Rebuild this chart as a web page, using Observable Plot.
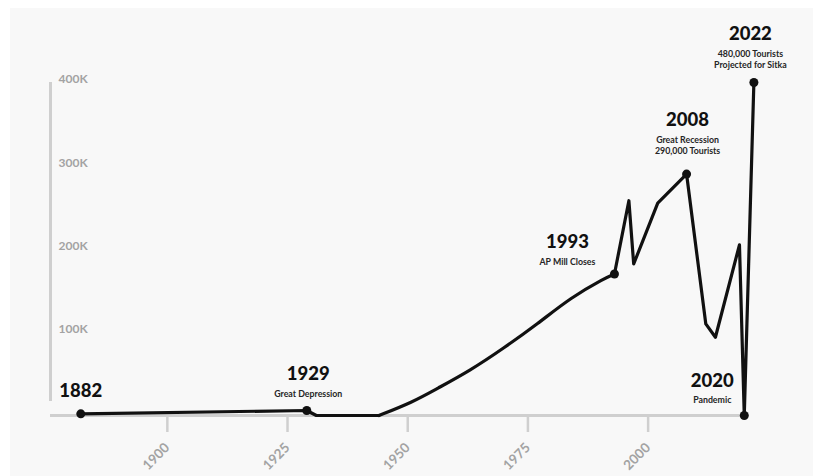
<!DOCTYPE html>
<html>
<head>
<meta charset="utf-8">
<script src="https://cdn.jsdelivr.net/npm/d3@7"></script>
<script src="https://cdn.jsdelivr.net/npm/@observablehq/plot@0.6"></script>
<style>
  html, body { margin: 0; padding: 0; background: #fff; }
  #chart { width: 813px; height: 476px; }
</style>
</head>
<body>
<div id="chart"></div>
<script>
// Annual visitors to Sitka, Alaska
const years = [1882, 1929, 1931, 1944, 1951, 1956, 1963, 1970, 1977, 1984, 1991, 1993, 1996, 1997, 2002, 2008, 2012, 2014, 2019, 2020, 2022];
const visitors = [2000, 6000, 0, 0, 16000, 32000, 54000, 81000, 110000, 142000, 165000, 170000, 258000, 182000, 255000, 290000, 110000, 94000, 205000, 0, 480000];

// Milestones called out on the line
const eventYears = [1882, 1929, 1993, 2008, 2020, 2022];
const eventNotes = ["", "Great Depression", "AP Mill Closes", "Great Recession\n290,000 Tourists", "Pandemic", "480,000 Tourists\nProjected for Sitka"];

// Axis ticks
const xTicks = [1900, 1925, 1950, 1975, 2000];
const yTicks = [100000, 200000, 300000, 400000];

const data = years.map((year, i) => ({year, visitors: visitors[i]}));
const events = eventYears.map((year, i) => ({
  year,
  visitors: visitors[years.indexOf(year)],
  note: eventNotes[i]
}));

// The post-war growth is drawn as a smooth curve; the rest stays angular
const growthStart = 1944;
const growthEnd = 1993;
const early = data.filter(d => d.year <= growthStart);
const growth = data.filter(d => d.year >= growthStart && d.year <= growthEnd);
const late = data.filter(d => d.year >= growthEnd);

const xMin = 1875.7;
const xMax = 2024;
const ink = "#111";
const axisGray = "#cfcfcf";
const labelGray = "#a3a3a3";

// Label placement around each milestone dot
const placement = {
  1882: {dx: 0, dy: -23, ndy: 0},
  1929: {dx: 1.5, dy: -36, ndy: -17},
  1993: {dx: -47, dy: -31.5, ndy: -12.5},
  2008: {dx: 1, dy: -54, ndy: -29.5},
  2020: {dx: -32, dy: -34, ndy: -16},
  2022: {dx: -3.5, dy: -48, ndy: -23.5}
};

const eventLabels = events.flatMap(e => {
  const p = placement[e.year];
  const marks = [
    Plot.text([e], {
      x: "year", y: "visitors", text: d => String(d.year),
      dx: p.dx, dy: p.dy, fill: ink, fontSize: 18.5, fontWeight: 900
    })
  ];
  if (e.note) {
    marks.push(Plot.text([e], {
      x: "year", y: "visitors", text: "note",
      dx: p.dx, dy: p.ndy, fill: "#262626", fontSize: 8.8, fontWeight: 700, lineHeight: 1.3
    }));
  }
  return marks;
});

const lineStyle = {x: "year", y: "visitors", stroke: ink, strokeWidth: 3.2, strokeLinejoin: "round", strokeLinecap: "round"};

const chart = Plot.plot({
  width: 813,
  height: 476,
  marginLeft: 50,
  marginRight: 50,
  marginTop: 82,
  marginBottom: 61,
  style: {
    fontFamily: "Lato, 'Open Sans', sans-serif",
    background: "linear-gradient(#fff, #fff) top left / 100% 8px no-repeat, linear-gradient(#fff, #fff) top left / 10px 100% no-repeat, #f8f8f8",
    overflow: "visible"
  },
  x: {domain: [xMin, xMax]},
  y: {domain: [0, 400000], clamp: true},
  marks: [
    Plot.axisX({
      ticks: xTicks, tickFormat: d => `${d}`, tickSize: 17, tickRotate: -45, tickPadding: 13,
      stroke: axisGray, strokeWidth: 2.5, fill: labelGray, fontSize: 13.5, fontWeight: 700, label: null
    }),
    Plot.axisY({
      ticks: yTicks, tickFormat: d => `${d / 1000}K`, tickSize: 0, tickPadding: -8,
      textAnchor: "start", dy: -3, fill: labelGray, fontSize: 12, fontWeight: 700, label: null
    }),
    Plot.ruleY([0], {x1: xMin, x2: 2020, stroke: axisGray, strokeWidth: 3}),
    Plot.ruleX([xMin], {y1: 0, y2: 400000, insetTop: -14, stroke: axisGray, strokeWidth: 3}),
    Plot.line(early, lineStyle),
    Plot.line(growth, {...lineStyle, curve: "basis"}),
    Plot.line(late, lineStyle),
    Plot.dot(events, {x: "year", y: "visitors", r: 4.5, fill: ink}),
    ...eventLabels
  ]
});

document.getElementById("chart").append(chart);
</script>
</body>
</html>
